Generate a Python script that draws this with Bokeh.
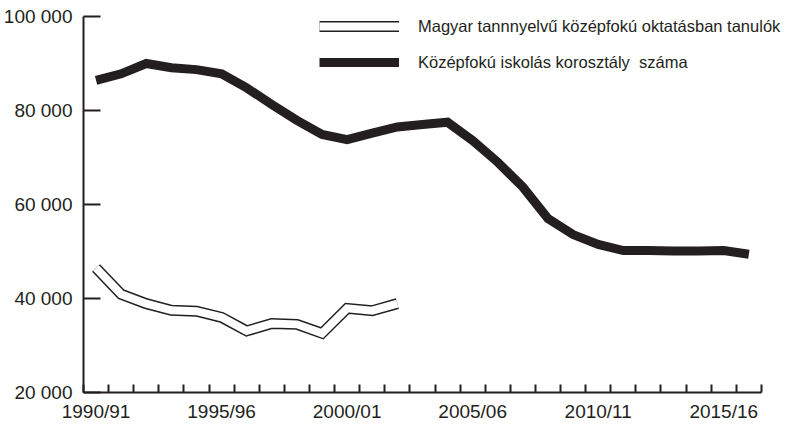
from bokeh.plotting import figure
from bokeh.models import FixedTicker, Legend, LegendItem
from bokeh.embed import file_html
from bokeh.resources import INLINE

# ---- data ----
years = [f"{y}/{str(y + 1)[-2:]}" for y in range(1990, 2017)]
x_idx = list(range(len(years)))

korosztaly = [86400, 87800, 90000, 89100, 88700, 87800, 84800, 81300, 77900,
              74900, 73800, 75200, 76500, 77000, 77500, 73600, 69000, 63700,
              57000, 53600, 51500, 50200, 50200, 50100, 50100, 50200, 49400]
magyar = [46500, 40900, 38900, 37500, 37300, 36000, 33100, 34700, 34500,
          32600, 37900, 37400, 38900]

y_ticks = [20000, 40000, 60000, 80000, 100000]
y_tick_labels = ["20 000", "40 000", "60 000", "80 000", "100 000"]
x_label_idx = [0, 5, 10, 15, 20, 25]

label1 = "Magyar tannnyelvű középfokú oktatásban tanulók"
label2 = "Középfokú iskolás korosztály  száma"

INK = "#231f20"
FONT = "Liberation Sans"

n = len(years)
p = figure(frame_width=700, frame_height=376, output_backend="svg",
           toolbar_location=None,
           x_range=(-0.5, 27.38), y_range=(20000, 100000),
           min_border_left=82, min_border_right=8, min_border_top=16,
           min_border_bottom=32)
p.outline_line_color = None
p.xgrid.visible = False
p.ygrid.visible = False
p.background_fill_color = "white"
p.border_fill_color = "white"

# x axis
p.xaxis.bounds = (-0.5, n - 0.5)
p.xaxis.ticker = FixedTicker(ticks=x_label_idx,
                             minor_ticks=[i - 0.5 for i in range(n + 1)])
p.xaxis.major_label_overrides = {i: years[i] for i in x_label_idx}
p.xaxis.major_tick_in = 0
p.xaxis.major_tick_out = 0
p.xaxis.minor_tick_in = 8
p.xaxis.minor_tick_out = 0
p.xaxis.minor_tick_line_width = 2
p.xaxis.minor_tick_line_color = INK
p.xaxis.major_label_standoff = 8

# y axis
p.yaxis.ticker = FixedTicker(ticks=y_ticks)
p.yaxis.major_label_overrides = {t: l for t, l in zip(y_ticks, y_tick_labels)}
p.yaxis.major_tick_in = 17
p.yaxis.major_tick_out = 0
p.yaxis.minor_tick_line_color = None
p.yaxis.major_label_standoff = 11

for ax in (p.xaxis, p.yaxis):
    ax.axis_line_width = 2
    ax.axis_line_color = INK
    ax.major_tick_line_width = 2
    ax.major_tick_line_color = INK
    ax.major_label_text_font = FONT
    ax.major_label_text_font_size = "19px"
    ax.major_label_text_color = INK

# lines
r_black = p.line(x_idx, korosztaly, line_width=9, line_color=INK,
                 line_join="miter", line_cap="butt")
r_m_out = p.line(x_idx[:len(magyar)], magyar, line_width=11, line_color=INK,
                 line_join="miter", line_cap="butt")
r_m_in = p.line(x_idx[:len(magyar)], magyar, line_width=8, line_color="white",
                line_join="miter", line_cap="butt")

legend = Legend(items=[LegendItem(label=label1, renderers=[r_m_out, r_m_in]),
                       LegendItem(label=label2, renderers=[r_black])],
                location=(236, 320), padding=0, margin=0, spacing=16,
                glyph_width=80, glyph_height=20, label_height=20,
                label_standoff=19, border_line_color=None,
                background_fill_alpha=0,
                label_text_font=FONT, label_text_font_size="16.5px",
                label_text_color=INK)
p.add_layout(legend)

open("out.html", "w").write(file_html(p, INLINE))
